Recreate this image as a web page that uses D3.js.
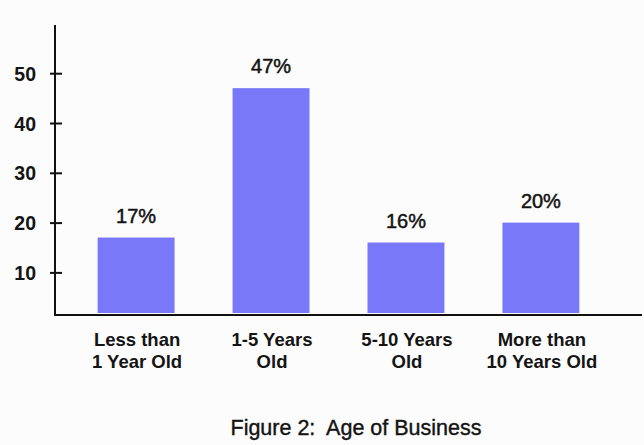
<!DOCTYPE html>
<html>
<head>
<meta charset="utf-8">
<script src="https://cdn.jsdelivr.net/npm/d3@7"></script>
<style>
  html, body { margin: 0; padding: 0; background: #fcfcfc; }
  svg { display: block; }
  text { font-family: "Liberation Sans", Arial, sans-serif; fill: #141414; white-space: pre; }
</style>
</head>
<body>
<svg id="chart" width="644" height="445"></svg>
<script>
// Age of business: share of respondents per age bracket (%)
const categories = [
  ["Less than", "1 Year Old"],
  ["1-5 Years", "Old"],
  ["5-10 Years", "Old"],
  ["More than", "10 Years Old"]
];
const values = [17, 47, 16, 20];
const tickValues = [10, 20, 30, 40, 50];
const title = "Figure 2:  Age of Business";

const svg = d3.select("#chart");

const axisX = 55;        // vertical axis position
const baseY = 315;       // horizontal axis position
const axisTop = 25;
const axisRight = 642;

const x = d3.scaleBand()
  .domain(d3.range(categories.length))
  .range([axisX, 622])
  .paddingInner(0.43)
  .paddingOuter(0.316);

const y = d3.scaleLinear()
  .domain([0, 60])
  .range([322.2, 23.4]);

// bars
svg.append("g")
  .selectAll("rect")
  .data(values)
  .join("rect")
  .attr("x", (d, i) => x(i))
  .attr("width", x.bandwidth())
  .attr("y", d => y(d))
  .attr("height", d => 313 - y(d))
  .attr("fill", "#7878f8");

// value labels
svg.append("g")
  .selectAll("text")
  .data(values)
  .join("text")
  .attr("x", (d, i) => x(i) + x.bandwidth() / 2)
  .attr("y", d => y(d) - 15)
  .attr("text-anchor", "middle")
  .attr("font-size", 20)
  .attr("stroke", "#141414")
  .attr("stroke-width", 0.5)
  .text(d => d + "%");

// y axis
const yAxis = d3.axisLeft(y)
  .tickValues(tickValues)
  .tickSize(0)
  .tickPadding(0)
  .tickFormat(d3.format("d"));

const gy = svg.append("g")
  .attr("transform", `translate(${axisX},0)`)
  .call(yAxis);
gy.select(".domain").remove();
gy.selectAll(".tick text")
  .attr("x", -19)
  .attr("dy", "0.36em")
  .attr("font-size", 19.5)
  .attr("font-weight", "bold")
  .attr("font-family", null)
  .attr("fill", "#141414");
gy.selectAll(".tick")
  .append("line")
  .attr("x1", -5)
  .attr("x2", 7)
  .attr("stroke", "#111")
  .attr("stroke-width", 2);

svg.append("line")
  .attr("x1", axisX).attr("x2", axisX)
  .attr("y1", axisTop).attr("y2", baseY + 1)
  .attr("stroke", "#111").attr("stroke-width", 2);

svg.append("line")
  .attr("x1", axisX - 1).attr("x2", axisRight)
  .attr("y1", baseY).attr("y2", baseY)
  .attr("stroke", "#111").attr("stroke-width", 2);

// category labels (two lines each)
const cat = svg.append("g")
  .selectAll("text")
  .data(categories)
  .join("text")
  .attr("x", (d, i) => x(i) + x.bandwidth() / 2 + 1)
  .attr("y", 346)
  .attr("text-anchor", "middle")
  .attr("font-size", 18.5)
  .attr("font-weight", "bold");
cat.selectAll("tspan")
  .data(d => d)
  .join("tspan")
  .attr("x", function () { return this.parentNode.getAttribute("x"); })
  .attr("dy", (d, j) => j === 0 ? 0 : 22)
  .text(d => d);

// caption
svg.append("text")
  .attr("x", 356)
  .attr("y", 435)
  .attr("text-anchor", "middle")
  .attr("font-size", 21.5)
  .attr("stroke", "#141414")
  .attr("stroke-width", 0.4)
  .text(title);
</script>
</body>
</html>
